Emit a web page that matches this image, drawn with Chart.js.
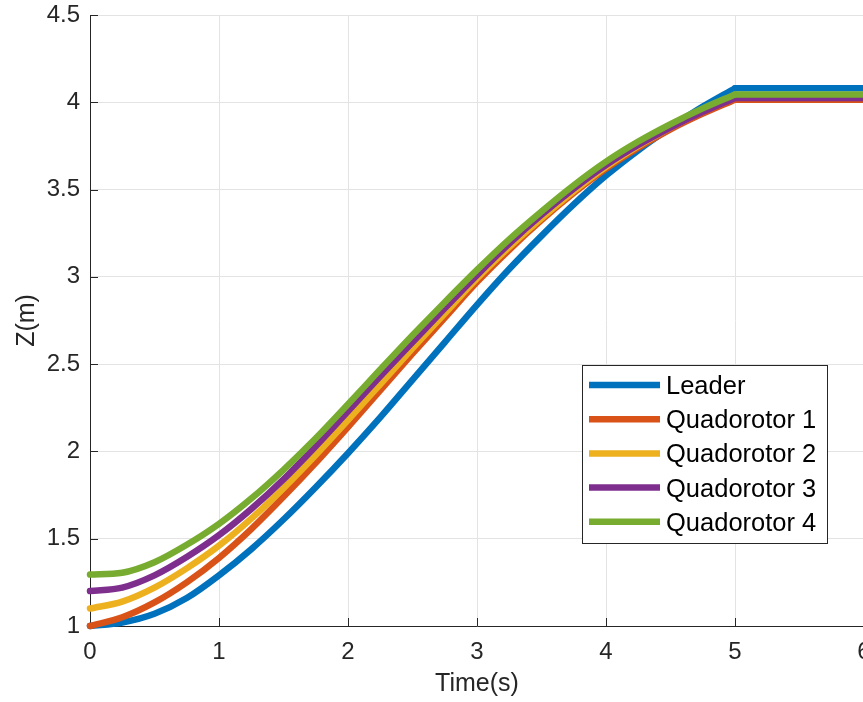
<!DOCTYPE html>
<html>
<head>
<meta charset="utf-8">
<script src="https://cdn.jsdelivr.net/npm/chart.js@4.4.1/dist/chart.umd.min.js"></script>
<style>
  html, body { margin: 0; padding: 0; background: #ffffff; overflow: hidden; }
  #wrap { width: 900px; height: 702px; }
</style>
</head>
<body>
<div id="wrap"><canvas id="chart" width="900" height="702"></canvas></div>
<script>
// Altitude trajectories of the leader and four followers (seconds, metres)
const time = [0, 0.25, 0.5, 0.75, 1, 1.25, 1.5, 1.75, 2, 2.25, 2.5, 2.75, 3, 3.25, 3.5, 3.75, 4, 4.25, 4.5, 4.75, 5];
const holdTime = [5, 6];

const leaderZ = [1.00, 1.02, 1.07, 1.16, 1.29, 1.44, 1.61, 1.795, 1.99, 2.195, 2.41, 2.625, 2.84, 3.045, 3.235, 3.415, 3.58, 3.725, 3.855, 3.975, 4.08];
const quad1Z  = [1.00, 1.05, 1.135, 1.25, 1.39, 1.555, 1.74, 1.935, 2.14, 2.35, 2.56, 2.765, 2.97, 3.155, 3.325, 3.48, 3.62, 3.74, 3.845, 3.935, 4.015];
const quad2Z  = [1.10, 1.14, 1.22, 1.33, 1.46, 1.615, 1.79, 1.98, 2.18, 2.385, 2.59, 2.79, 2.99, 3.17, 3.335, 3.49, 3.63, 3.75, 3.855, 3.95, 4.04];
const quad3Z  = [1.20, 1.22, 1.29, 1.395, 1.52, 1.67, 1.84, 2.03, 2.23, 2.43, 2.625, 2.82, 3.01, 3.19, 3.355, 3.505, 3.64, 3.755, 3.855, 3.945, 4.025];
const quad4Z  = [1.295, 1.305, 1.365, 1.465, 1.585, 1.73, 1.895, 2.075, 2.27, 2.47, 2.665, 2.855, 3.04, 3.215, 3.375, 3.525, 3.66, 3.775, 3.875, 3.965, 4.045];

const seriesNames  = ['Leader', 'Quadorotor 1', 'Quadorotor 2', 'Quadorotor 3', 'Quadorotor 4'];
const seriesValues = [leaderZ, quad1Z, quad2Z, quad3Z, quad4Z];
const seriesColors = ['#0072BD', '#D95319', '#EDB120', '#7E2F8E', '#77AC30'];

const xTicks = [0, 1, 2, 3, 4, 5, 6];
const yTicks = [1, 1.5, 2, 2.5, 3, 3.5, 4, 4.5];

const AXIS_COLOR = '#262626';
const GRID_COLOR = '#e3e3e3';
const FONT = "'Liberation Sans', Arial, Helvetica, sans-serif";
const LINE_W = 6.5;

// Each trajectory: a smooth climb to t = 5 s, then a constant hold
const datasets = [];
seriesValues.forEach((vals, i) => {
  const common = {
    borderColor: seriesColors[i],
    backgroundColor: seriesColors[i],
    borderWidth: LINE_W,
    pointRadius: 0,
    borderCapStyle: 'round',
    borderJoinStyle: 'round',
    clip: false,
    fill: false,
    order: seriesValues.length - i
  };
  datasets.push(Object.assign({
    label: seriesNames[i],
    data: time.map((t, k) => ({ x: t, y: vals[k] })),
    cubicInterpolationMode: 'monotone'
  }, common));
  const last = vals[vals.length - 1];
  datasets.push(Object.assign({
    label: seriesNames[i] + ' hold',
    isHold: true,
    data: holdTime.map(t => ({ x: t, y: last })),
    tension: 0
  }, common));
});

// Short inward tick marks on the left and bottom axes
const innerTicks = {
  id: 'innerTicks',
  beforeDatasetsDraw(chart) {
    const { ctx, chartArea, scales } = chart;
    const len = 8;
    ctx.save();
    ctx.strokeStyle = AXIS_COLOR;
    ctx.lineWidth = 1;
    ctx.beginPath();
    yTicks.forEach(v => {
      const y = Math.round(scales.y.getPixelForValue(v)) + 0.5;
      ctx.moveTo(chartArea.left, y);
      ctx.lineTo(chartArea.left + len, y);
    });
    xTicks.forEach(v => {
      const x = Math.round(scales.x.getPixelForValue(v)) + 0.5;
      ctx.moveTo(x, chartArea.bottom);
      ctx.lineTo(x, chartArea.bottom - len);
    });
    ctx.stroke();
    ctx.restore();
  }
};

// Boxed legend placed inside the plot area
const boxLegend = {
  id: 'boxLegend',
  afterDraw(chart) {
    const { ctx } = chart;
    const bx = 582.5, by = 365.5, bw = 245, bh = 178;
    ctx.save();
    ctx.fillStyle = '#ffffff';
    ctx.fillRect(bx, by, bw, bh);
    ctx.strokeStyle = AXIS_COLOR;
    ctx.lineWidth = 1;
    ctx.strokeRect(bx, by, bw, bh);
    ctx.font = '25.5px ' + FONT;
    ctx.textBaseline = 'middle';
    ctx.textAlign = 'left';
    chart.data.datasets.filter(d => !d.isHold).forEach((d, i) => {
      const y = 385 + i * 34.2;
      ctx.strokeStyle = d.borderColor;
      ctx.lineWidth = LINE_W;
      ctx.lineCap = 'butt';
      ctx.beginPath();
      ctx.moveTo(589, y);
      ctx.lineTo(660, y);
      ctx.stroke();
      ctx.fillStyle = '#000000';
      ctx.fillText(d.label, 666, y + 2);
    });
    ctx.restore();
  }
};

new Chart(document.getElementById('chart'), {
  type: 'line',
  data: { datasets },
  options: {
    responsive: false,
    animation: false,
    devicePixelRatio: 1,
    layout: { padding: { top: 15, right: 36, left: 0, bottom: 0 } },
    plugins: { legend: { display: false }, tooltip: { enabled: false } },
    scales: {
      x: {
        type: 'linear',
        min: 0, max: 6,
        afterBuildTicks: s => { s.ticks = xTicks.map(v => ({ value: v })); },
        afterFit: s => { s.height = 76; s.paddingLeft = 0; s.paddingRight = 0; },
        grid: { color: GRID_COLOR, lineWidth: 1, drawTicks: false },
        border: { display: true, color: AXIS_COLOR, width: 1 },
        ticks: { color: AXIS_COLOR, font: { family: FONT, size: 24 }, padding: 12, maxRotation: 0,
                 callback: v => String(v) },
        title: { display: true, text: 'Time(s)', color: AXIS_COLOR,
                 font: { family: FONT, size: 25 }, padding: { top: 0, bottom: 3 } }
      },
      y: {
        type: 'linear',
        min: 1, max: 4.5,
        afterBuildTicks: s => { s.ticks = yTicks.map(v => ({ value: v })); },
        afterFit: s => { s.width = 90; s.paddingTop = 0; s.paddingBottom = 0; },
        grid: { color: GRID_COLOR, lineWidth: 1, drawTicks: false },
        border: { display: true, color: AXIS_COLOR, width: 1 },
        ticks: { color: AXIS_COLOR, font: { family: FONT, size: 24 }, padding: 10,
                 callback: v => String(v) },
        title: { display: true, text: 'Z(m)', color: AXIS_COLOR,
                 font: { family: FONT, size: 25 }, padding: { top: 12.5, bottom: 0 } }
      }
    }
  },
  plugins: [innerTicks, boxLegend]
});
</script>
</body>
</html>
